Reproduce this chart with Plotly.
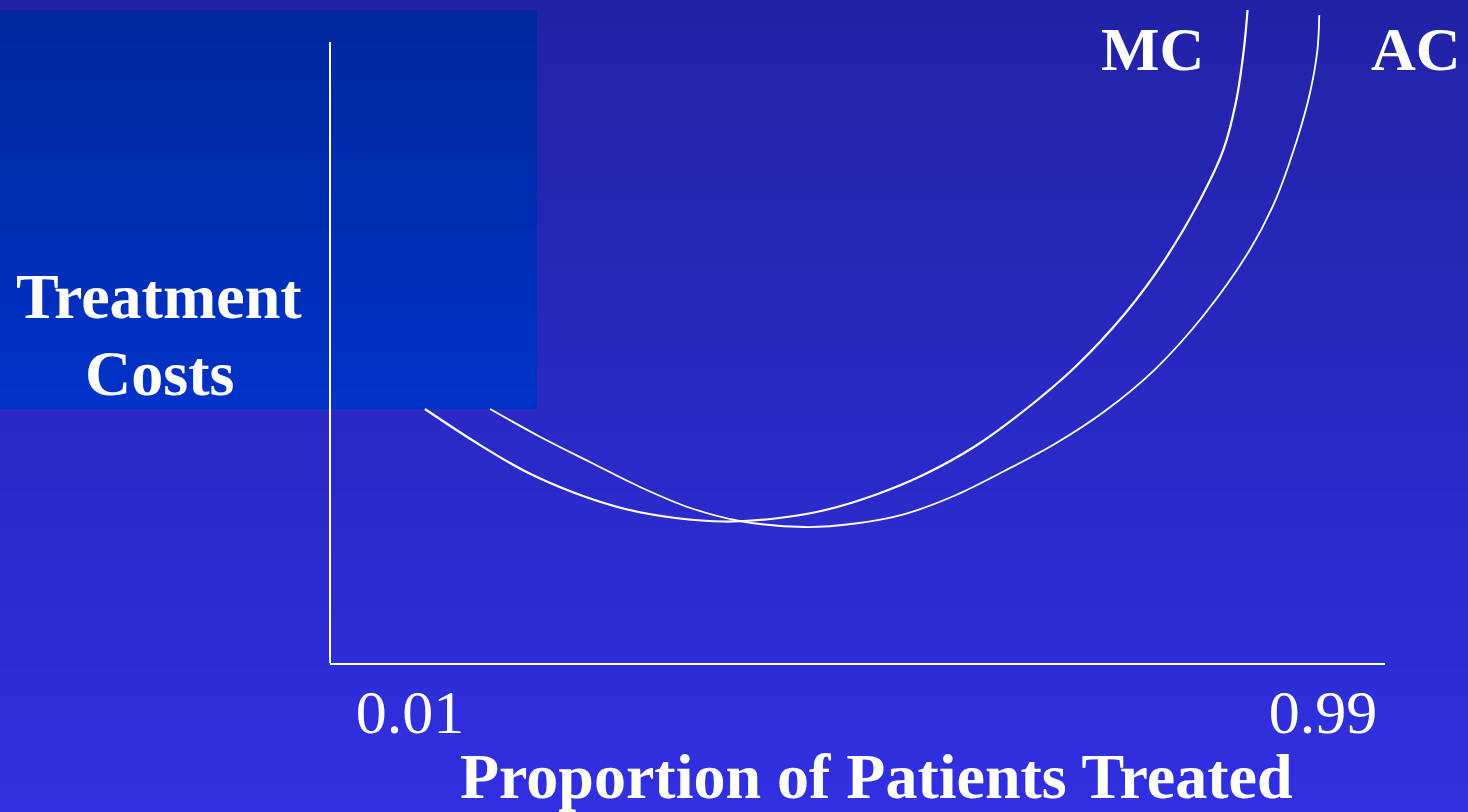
import base64
import struct
import zlib

import numpy as np
import plotly.graph_objects as go

# ---------------- data ----------------
mc_x = [0.026, 0.080, 0.133, 0.187, 0.241, 0.295, 0.348, 0.402, 0.456, 0.509,
        0.563, 0.617, 0.670, 0.724, 0.778, 0.820, 0.858, 0.883, 0.897, 0.905,
        0.909]
mc_y = [38.31, 33.33, 28.96, 25.64, 23.23, 21.87, 21.34, 21.79, 23.08, 25.34,
        28.51, 32.73, 38.16, 44.65, 52.79, 60.78, 69.83, 77.38, 84.92, 92.46,
        98.49]

ac_x = [0.096, 0.150, 0.203, 0.257, 0.311, 0.364, 0.434, 0.488, 0.541, 0.595,
        0.649, 0.702, 0.756, 0.810, 0.863, 0.912, 0.939, 0.962, 0.976, 0.984,
        0.986]
ac_y = [38.31, 34.09, 30.32, 26.55, 23.38, 21.42, 20.51, 21.04, 22.47, 25.26,
        29.03, 33.03, 38.01, 44.34, 52.64, 62.44, 69.83, 78.88, 85.97, 92.46,
        97.74]

tick_vals = [0.01, 0.99]
tick_text = ["0.01", "0.99"]
x_title = "Proportion of Patients Treated"
y_title_lines = ["Treatment", "Costs"]
curve_names = ["MC", "AC"]

# ---------------- layout geometry ----------------
W, H = 1468, 812
PL, PR, PT, PB = 330, 1385, 0, 663  # plot area in pixels
FONT = "Liberation Serif"


def pxx(px):
    return (px - PL) / (PR - PL)


def pxy(py):
    return (PB - py) / (PB - PT)


def png_data_uri(arr):
    h, w, _ = arr.shape
    raw = b"".join(b"\x00" + arr[r].tobytes() for r in range(h))

    def chunk(tag, data):
        c = struct.pack(">I", len(data)) + tag + data
        return c + struct.pack(">I", zlib.crc32(tag + data) & 0xFFFFFFFF)

    png = (b"\x89PNG\r\n\x1a\n"
           + chunk(b"IHDR", struct.pack(">IIBBBBB", w, h, 8, 2, 0, 0, 0))
           + chunk(b"IDAT", zlib.compress(raw, 9))
           + chunk(b"IEND", b""))
    return "data:image/png;base64," + base64.b64encode(png).decode()


# background gradient
bg_top = np.array([34, 34, 166], float)
bg_bot = np.array([48, 48, 226], float)
t = np.linspace(0, 1, H)[:, None, None]
img = np.broadcast_to(bg_top + (bg_bot - bg_top) * t, (H, W, 3)).copy()
# highlighted box behind the y label
r0, r1, c1 = 10, 409, 537
rt = np.linspace(0, 1, r1 - r0)[:, None, None]
box_top = np.array([0, 40, 158], float)
box_bot = np.array([0, 50, 200], float)
img[r0:r1, 0:c1] = box_top + (box_bot - box_top) * rt
img = np.clip(np.round(img), 0, 255).astype(np.uint8)
bg_uri = png_data_uri(img)

fig = go.Figure()
fig.add_trace(go.Scatter(x=mc_x, y=mc_y, mode="lines", name=curve_names[0],
                         line=dict(color="white", width=2.2, shape="spline", smoothing=1.0),
                         hoverinfo="skip", showlegend=False))
fig.add_trace(go.Scatter(x=ac_x, y=ac_y, mode="lines", name=curve_names[1],
                         line=dict(color="white", width=1.8, shape="spline", smoothing=1.0),
                         hoverinfo="skip", showlegend=False))

x0 = 0.01 - (410 - PL) / 931.6
x1 = 0.99 + (PR - 1323) / 931.6

bold64 = dict(family=FONT, size=64, color="white", weight="bold")
bold62 = dict(family=FONT, size=62, color="white", weight="bold")

fig.update_layout(
    width=W, height=H,
    margin=dict(l=PL, r=W - PR, t=PT, b=H - PB),
    paper_bgcolor="rgb(48,48,226)",
    plot_bgcolor="rgba(0,0,0,0)",
    images=[dict(source=bg_uri, xref="paper", yref="paper",
                 x=pxx(0), y=pxy(0), sizex=W / (PR - PL), sizey=H / (PB - PT),
                 xanchor="left", yanchor="top", sizing="stretch", layer="below")],
    xaxis=dict(range=[x0, x1], showline=True, linecolor="white", linewidth=2,
               showgrid=False, zeroline=False, ticks="",
               tickvals=tick_vals, ticktext=tick_text, ticklabelstandoff=-6,
               tickfont=dict(family=FONT, size=62, color="white")),
    yaxis=dict(range=[0, 100], visible=False),
    shapes=[dict(type="line", xref="paper", yref="paper", x0=0, x1=0,
                 y0=0, y1=pxy(42), line=dict(color="white", width=2))],
    annotations=[
        dict(text=x_title, x=pxx(876), y=pxy(776), xref="paper", yref="paper",
             showarrow=False, xanchor="center", yanchor="middle", font=bold64),
        dict(text=y_title_lines[0], x=pxx(159), y=pxy(296), xref="paper", yref="paper",
             showarrow=False, xanchor="center", yanchor="middle", font=bold64),
        dict(text=y_title_lines[1], x=pxx(159), y=pxy(373), xref="paper", yref="paper",
             showarrow=False, xanchor="center", yanchor="middle", font=bold64),
        dict(text=curve_names[0], x=pxx(1152), y=pxy(49), xref="paper", yref="paper",
             showarrow=False, xanchor="center", yanchor="middle", font=bold62),
        dict(text=curve_names[1], x=pxx(1416), y=pxy(49), xref="paper", yref="paper",
             showarrow=False, xanchor="center", yanchor="middle", font=bold62),
    ],
)

fig.write_html("out.html", config={"displayModeBar": False},
               post_script="document.body.style.margin='0';document.body.style.overflow='hidden';")
